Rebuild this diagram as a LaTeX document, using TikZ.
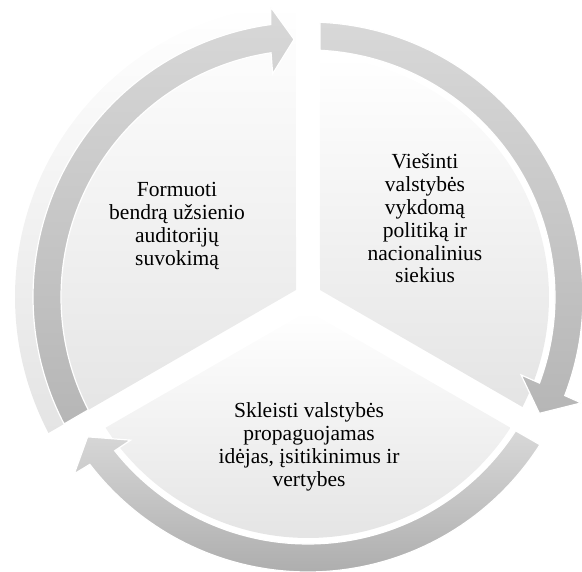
\documentclass[tikz,border=0pt]{standalone}
\usepackage{fontspec}
\setmainfont{Liberation Serif}
\usetikzlibrary{calc}
\definecolor{arrowTop}{RGB}{216,216,216}
\definecolor{arrowBot}{RGB}{182,182,182}
\definecolor{segBot}{RGB}{228,228,228}
\tikzset{
  segshade/.style={top color=white, middle color=white, bottom color=segBot},
  arrowshade/.style={top color=arrowTop, bottom color=arrowBot, draw=white, line width=1.2pt},
  lbl/.style={align=center, inner sep=0pt, text=black, font=\fontsize{21.5}{22.8}\selectfont}
}
\begin{document}
\begin{tikzpicture}[x=1pt,y=1pt]
\useasboundingbox (0,0) rectangle (582,572);
\clip (0,0) rectangle (582,572);
\coordinate (O) at (308,275);
% pie segments
\shade[segshade] (296,282) -- ($(O)+(92.35:293)$) arc[start angle=92.35,end angle=207.65,radius=293] -- cycle;
\shade[segshade] (320,282) -- ($(O)+(87.15:241)$) arc[start angle=87.15,end angle=-27.15,radius=241] -- cycle;
\shade[segshade] (308,261) -- ($(O)+(-32.85:241)$) arc[start angle=-32.85,end angle=-147.15,radius=241] -- cycle;
% circular arrows
\path[arrowshade] ($(O)+(207.5:275)$) arc[start angle=207.5,end angle=97.8,radius=275]
  -- ($(O)+(97.3:292)$) -- ($(O)+(93.1:258)$) -- ($(O)+(99:226)$)
  -- ($(O)+(98.6:247)$) arc[start angle=98.6,end angle=207.2,radius=247] -- cycle;
\path[arrowshade] ($(O)+(87.5:275)$) arc[start angle=87.5,end angle=-21,radius=275]
  -- ($(O)+(-21.2:293)$) -- ($(O)+(-26.7:259)$) -- ($(O)+(-20.1:227)$)
  -- ($(O)+(-20.4:247)$) arc[start angle=-20.4,end angle=87.2,radius=247] -- cycle;
\path[arrowshade, bottom color=arrowBot!95!black] ($(O)+(-32.5:275)$) arc[start angle=-32.5,end angle=-142.5,radius=275]
  -- ($(O)+(-142.9:293)$) -- ($(O)+(-147.6:261)$) -- ($(O)+(-141.1:228)$)
  -- ($(O)+(-141.5:247)$) arc[start angle=-141.5,end angle=-32.8,radius=247] -- cycle;
% labels
\node[lbl] (t1) at (177,346) {Formuoti\\bendrą užsienio\\auditorijų\\suvokimą};
\node[lbl] (t2) at (425,353.5) {Viešinti\\valstybės\\vykdomą\\politiką ir\\nacionalinius\\siekius};
\node[lbl] (t3) at (309,125) {Skleisti valstybės\\propaguojamas\\idėjas, įsitikinimus ir\\vertybes};
\end{tikzpicture}
\end{document}
